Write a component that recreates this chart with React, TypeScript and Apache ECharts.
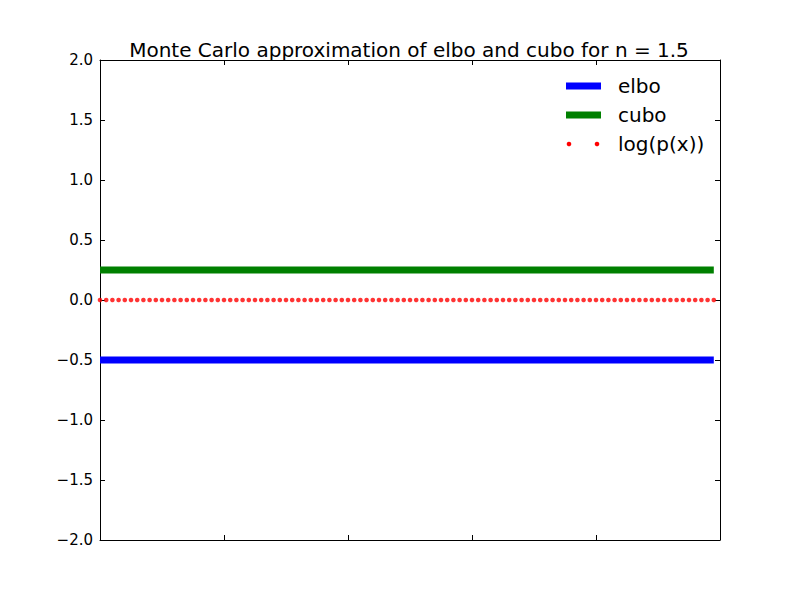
import React, { useEffect, useRef } from "react";
import * as echarts from "echarts";

const titleText = "Monte Carlo approximation of elbo and cubo for n = 1.5";
const seriesNames = ["elbo", "cubo", "log(p(x))"];
const seriesColors = ["#0000ff", "#008000", "#ff0000"];
const elboValue = -0.5;
const cuboValue = 0.25;
const logPxValue = 0;
const sampleCount = 100;
const xMin = 0;
const xMax = 100;
const xInterval = 20;
const yMin = -2;
const yMax = 2;
const yInterval = 0.5;

const FONT = "DejaVu Sans";

export default function App() {
  const ref = useRef<HTMLDivElement>(null);
  useEffect(() => {
    if (!ref.current) return;
    const chart = echarts.init(ref.current, null, { renderer: "svg" });
    const xs = Array.from({ length: sampleCount }, (_, i) => i);
    const constSeries = (v: number) => xs.map((x) => [x, v]);
    const fmtY = (v: number) => v.toFixed(1).replace("-", "\u2212");
    const gridL = 100, gridT = 60, gridW = 620, gridH = 480;
    const axisCommon = {
      axisLine: { show: true, onZero: false, lineStyle: { color: "#000", width: 1 } },
      axisTick: { show: true, inside: true, length: 5, lineStyle: { color: "#000", width: 1 } },
      splitLine: { show: false },
    };
    const legendX = 566, legendY0 = 86, legendDy = 29;
    const legendGraphics: any[] = [];
    seriesNames.forEach((name, i) => {
      const y = legendY0 + i * legendDy;
      if (i < 2) {
        legendGraphics.push({
          type: "rect",
          shape: { x: legendX, y: y - 3.5, width: 35, height: 7 },
          style: { fill: seriesColors[i] },
        });
      } else {
        legendGraphics.push({ type: "circle", shape: { cx: legendX + 3, cy: y, r: 2.3 }, style: { fill: seriesColors[i] } });
        legendGraphics.push({ type: "circle", shape: { cx: legendX + 31, cy: y, r: 2.3 }, style: { fill: seriesColors[i] } });
      }
      legendGraphics.push({
        type: "text",
        x: 618,
        y,
        style: { text: name, font: `20px '${FONT}'`, fill: "#000", verticalAlign: "middle", align: "left" },
      });
    });
    chart.setOption({
      animation: false,
      backgroundColor: "#fff",
      title: {
        text: titleText,
        left: 404,
        textAlign: "center",
        top: 35,
        textStyle: { fontFamily: FONT, fontSize: 20, fontWeight: "normal", color: "#000" },
      },
      grid: { left: gridL, top: gridT, width: gridW, height: gridH, containLabel: false },
      xAxis: [
        { type: "value", min: xMin, max: xMax, interval: xInterval, position: "bottom", axisLabel: { show: false }, ...axisCommon },
        { type: "value", min: xMin, max: xMax, interval: xInterval, position: "top", axisLabel: { show: false }, ...axisCommon },
      ],
      yAxis: [
        {
          type: "value", min: yMin, max: yMax, interval: yInterval, position: "left",
          axisLabel: { show: true, margin: 7, formatter: fmtY, fontFamily: FONT, fontSize: 15, color: "#000" },
          ...axisCommon,
        },
        { type: "value", min: yMin, max: yMax, interval: yInterval, position: "right", axisLabel: { show: false }, ...axisCommon },
      ],
      series: [
        {
          name: seriesNames[0], type: "line", data: constSeries(elboValue), showSymbol: false, symbol: "none",
          lineStyle: { color: seriesColors[0], width: 7, cap: "butt" }, clip: true, z: 3,
        },
        {
          name: seriesNames[1], type: "line", data: constSeries(cuboValue), showSymbol: false, symbol: "none",
          lineStyle: { color: seriesColors[1], width: 7, cap: "butt" }, clip: true, z: 3,
        },
        {
          name: seriesNames[2], type: "scatter", data: constSeries(logPxValue), symbol: "circle", symbolSize: 4.6,
          itemStyle: { color: seriesColors[2] }, clip: true, z: 4,
        },
      ],
      graphic: legendGraphics,
    });
    return () => chart.dispose();
  }, []);
  return <div ref={ref} style={{ position: "absolute", left: 0, top: 0, width: 800, height: 600 }} />;
}
